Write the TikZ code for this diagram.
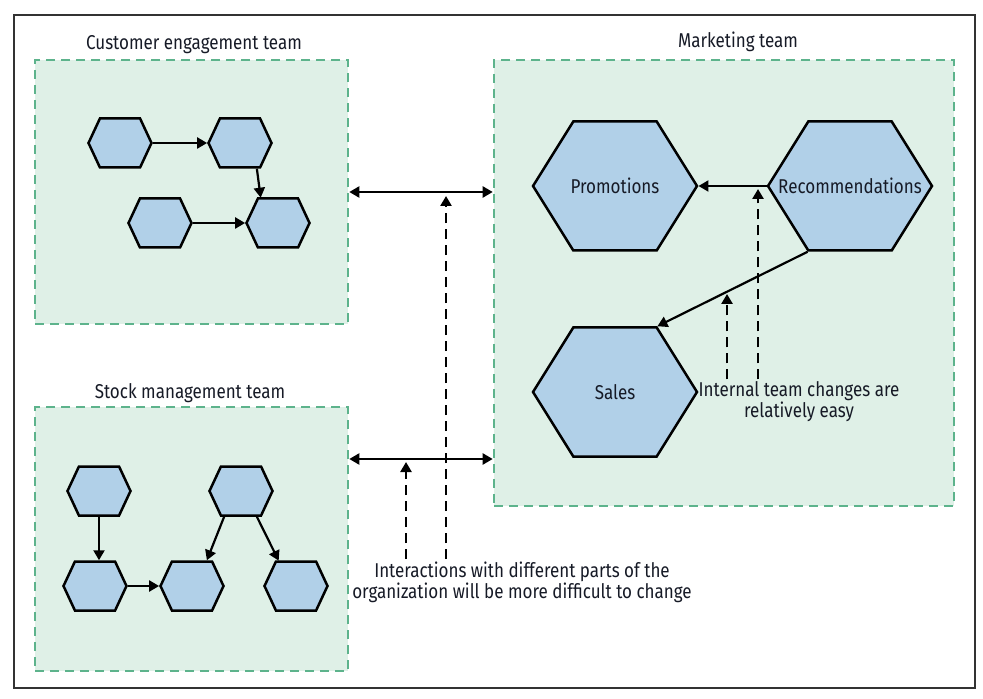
\documentclass[tikz,border=0pt]{standalone}
\usepackage{fontspec}
\setmainfont{Fira Sans}[FakeStretch=0.85]
\usetikzlibrary{shapes.symbols,arrows.meta}

\definecolor{teamfill}{HTML}{DFF0E7}
\definecolor{teamline}{HTML}{5DB38C}
\definecolor{hexfill}{HTML}{B1D0E8}
\definecolor{inktext}{HTML}{161A26}

\begin{document}
\begin{tikzpicture}[x=0.5pt, y=-0.5pt, font=\fontsize{10}{10.5}\selectfont, text=inktext]
	\tikzset{team/.style={draw=teamline, fill=teamfill, line width=1.3pt, dash pattern=on 4.5pt off 3pt, inner sep=0pt}};
	\tikzset{hexs/.style={signal, signal to=east and west, signal pointer angle=130, draw=black, line width=1.25pt, fill=hexfill, minimum width=31.5pt, minimum height=24.5pt, inner sep=0pt}};
	\tikzset{hexl/.style={hexs, signal pointer angle=116, minimum width=82pt, minimum height=64.5pt}};
	\tikzset{arr/.style={-{Triangle[length=5pt,width=5.5pt]}, line width=1.1pt}};
	\tikzset{dbl/.style={arr, {Triangle[length=5pt,width=5.5pt]}-{Triangle[length=5pt,width=5.5pt]}}};
	\tikzset{darr/.style={arr, line width=1.3pt, dash pattern=on 5pt off 3pt}};

	\useasboundingbox (0,0) rectangle (983,699);
	\draw[line width=0.8pt, black!80] (14,15) rectangle (975,688);

	% team boxes
	\node[team, minimum width=156.5pt, minimum height=132pt] (cust) at (191.5,192) {};
	\node[team, minimum width=156.5pt, minimum height=132pt] (stock) at (191.5,539) {};
	\node[team, minimum width=230pt, minimum height=223pt] (mkt) at (724,283) {};

	\node (cust-t) at (194,45) {Customer engagement team};
	\node (stock-t) at (190,393) {Stock management team};
	\node (mkt-t) at (738,42) {Marketing team};

	% customer engagement
	\node[hexs] (c1) at (120,143) {};
	\node[hexs] (c2) at (240,143) {};
	\node[hexs] (c3) at (160,223) {};
	\node[hexs] (c4) at (278,223) {};

	\draw[arr] (c1) to (c2);
	\draw[arr] ([xshift=-2pt]c2.south east) to ([xshift=2pt]c4.north west);
	\draw[arr] (c3) to (c4);

	% stock management
	\node[hexs] (s1) at (99,491) {};
	\node[hexs] (s2) at (95,586) {};
	\node[hexs] (s3) at (192,586) {};
	\node[hexs] (s4) at (241,491) {};
	\node[hexs] (s5) at (296,586) {};

	\draw[arr] (s1.south) to (s1.south |- s2.north);
	\draw[arr] (s2) to (s3);
	\draw[arr] ([xshift=2pt]s4.south west) to ([xshift=-3pt]s3.north east);
	\draw[arr] ([xshift=-2.5pt]s4.south east) to ([xshift=2pt]s5.north west);

	% marketing
	\node[hexl, label={center:Promotions}] (promo) at (615,186) {};
	\node[hexl, label={center:Recommendations}] (rec) at (850,186) {};
	\node[hexl, label={center:Sales}] (sales) at (615,392) {};

	\draw[arr] (rec) to (promo);
	\draw[arr] (rec.south west) to (sales.north east);

	\node[align=center, inner sep=1pt] (internal) at (799,402) {Internal team changes are\\relatively easy};
	\coordinate (in1) at (727,294);
	\coordinate (in2) at (758,189);
	\draw[darr] (internal.north -| in1) to (in1);
	\draw[darr] (internal.north -| in2) to (in2);

	% between teams
	\coordinate (lo) at (420,459);
	\draw[dbl] (cust.east) to (cust.east -| mkt.west);
	\draw[dbl] (lo -| stock.east) to (lo -| mkt.west);

	\node[align=center, inner sep=1pt] (inter) at (522,582) {Interactions with different parts of the\\organization will be more difficult to change};
	\coordinate (up1) at (446,196);
	\coordinate (up2) at (406,462);
	\draw[darr] (inter.north -| up1) to (up1);
	\draw[darr] (inter.north -| up2) to (up2);

\end{tikzpicture}
\end{document}
